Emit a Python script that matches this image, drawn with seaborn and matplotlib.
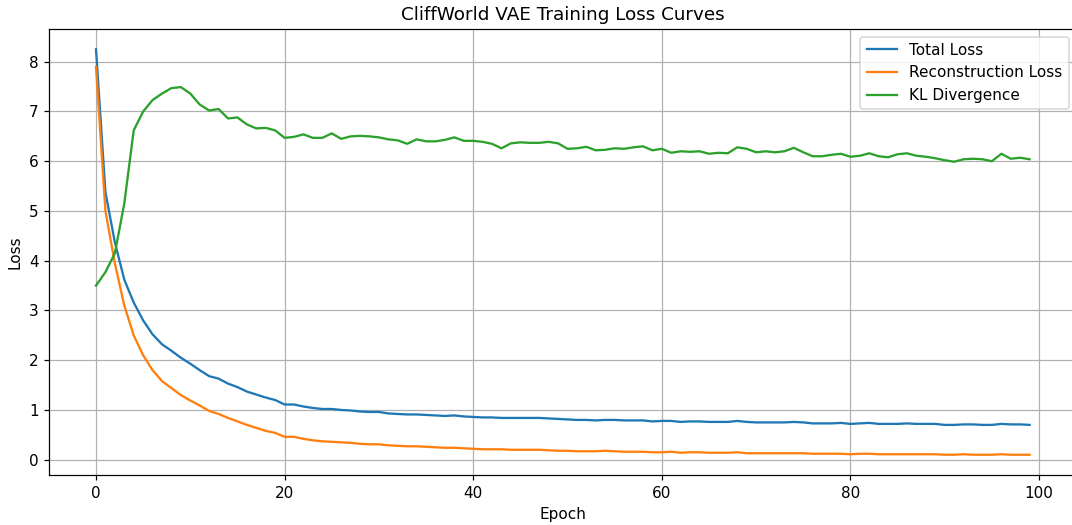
import numpy as np
import pandas as pd
import seaborn as sns
import matplotlib
matplotlib.use('Agg')
import matplotlib.pyplot as plt

# Values, one per epoch (0..99)
epochs = list(range(100))

recon_loss = [
    7.90, 5.00, 3.95, 3.10, 2.50, 2.10, 1.80, 1.58, 1.44, 1.30,
    1.19, 1.09, 0.98, 0.92, 0.84, 0.77, 0.70, 0.64, 0.58, 0.54,
    0.46, 0.46, 0.42, 0.39, 0.37, 0.36, 0.35, 0.34, 0.32, 0.31,
    0.31, 0.29, 0.28, 0.27, 0.27, 0.26, 0.25, 0.24, 0.24, 0.23,
    0.22, 0.21, 0.21, 0.21, 0.20, 0.20, 0.20, 0.20, 0.19, 0.18,
    0.18, 0.17, 0.17, 0.17, 0.18, 0.17, 0.16, 0.16, 0.16, 0.15,
    0.15, 0.16, 0.14, 0.15, 0.15, 0.14, 0.14, 0.14, 0.15, 0.13,
    0.13, 0.13, 0.13, 0.13, 0.13, 0.13, 0.12, 0.12, 0.12, 0.12,
    0.11, 0.12, 0.12, 0.11, 0.11, 0.11, 0.11, 0.11, 0.11, 0.11,
    0.10, 0.10, 0.11, 0.10, 0.10, 0.10, 0.11, 0.10, 0.10, 0.10,
]

kl_div = [
    3.50, 3.77, 4.15, 5.15, 6.62, 7.00, 7.23, 7.36, 7.47, 7.49,
    7.36, 7.14, 7.02, 7.05, 6.86, 6.88, 6.74, 6.66, 6.67, 6.62,
    6.47, 6.49, 6.54, 6.47, 6.47, 6.56, 6.45, 6.50, 6.51, 6.50,
    6.48, 6.44, 6.42, 6.35, 6.44, 6.40, 6.40, 6.43, 6.48, 6.41,
    6.41, 6.39, 6.35, 6.26, 6.36, 6.38, 6.37, 6.37, 6.39, 6.36,
    6.25, 6.26, 6.29, 6.22, 6.23, 6.26, 6.25, 6.28, 6.30, 6.22,
    6.25, 6.17, 6.20, 6.19, 6.20, 6.15, 6.17, 6.16, 6.28, 6.25,
    6.18, 6.20, 6.18, 6.20, 6.27, 6.18, 6.10, 6.10, 6.13, 6.15,
    6.09, 6.11, 6.16, 6.10, 6.08, 6.14, 6.16, 6.11, 6.09, 6.06,
    6.02, 5.99, 6.04, 6.05, 6.04, 6.00, 6.15, 6.05, 6.07, 6.04,
]

total_loss = [
    8.25, 5.38, 4.37, 3.62, 3.16, 2.80, 2.52, 2.32, 2.19, 2.05,
    1.93, 1.80, 1.68, 1.63, 1.53, 1.46, 1.37, 1.31, 1.25, 1.20,
    1.11, 1.11, 1.07, 1.04, 1.02, 1.02, 1.00, 0.99, 0.97, 0.96,
    0.96, 0.93, 0.92, 0.91, 0.91, 0.90, 0.89, 0.88, 0.89, 0.87,
    0.86, 0.85, 0.85, 0.84, 0.84, 0.84, 0.84, 0.84, 0.83, 0.82,
    0.81, 0.80, 0.80, 0.79, 0.80, 0.80, 0.79, 0.79, 0.79, 0.77,
    0.78, 0.78, 0.76, 0.77, 0.77, 0.76, 0.76, 0.76, 0.78, 0.76,
    0.75, 0.75, 0.75, 0.75, 0.76, 0.75, 0.73, 0.73, 0.73, 0.74,
    0.72, 0.73, 0.74, 0.72, 0.72, 0.72, 0.73, 0.72, 0.72, 0.72,
    0.70, 0.70, 0.71, 0.71, 0.70, 0.70, 0.72, 0.71, 0.71, 0.70,
]

df = pd.DataFrame({
    'epoch': epochs,
    'total': total_loss,
    'recon': recon_loss,
    'kl': kl_div,
})

# Reference looks rendered at ~110 dpi, so keep pixel size and scale everything
DPI = 110
fig = plt.figure(figsize=(1072 / DPI, 525 / DPI), dpi=DPI)
ax = fig.add_axes([0.046, 0.0952, 0.958, 0.8495])

sns.lineplot(data=df, x='epoch', y='total', color='#1f77b4', label='Total Loss', ax=ax)
sns.lineplot(data=df, x='epoch', y='recon', color='#ff7f0e', label='Reconstruction Loss', ax=ax)
sns.lineplot(data=df, x='epoch', y='kl', color='#2ca02c', label='KL Divergence', ax=ax)

ax.set_title('CliffWorld VAE Training Loss Curves', fontsize=12)
ax.set_xlabel('Epoch')
ax.set_ylabel('Loss')
ax.grid(True)
ax.legend(loc='upper right')

fig.savefig('out.png', dpi=DPI)
